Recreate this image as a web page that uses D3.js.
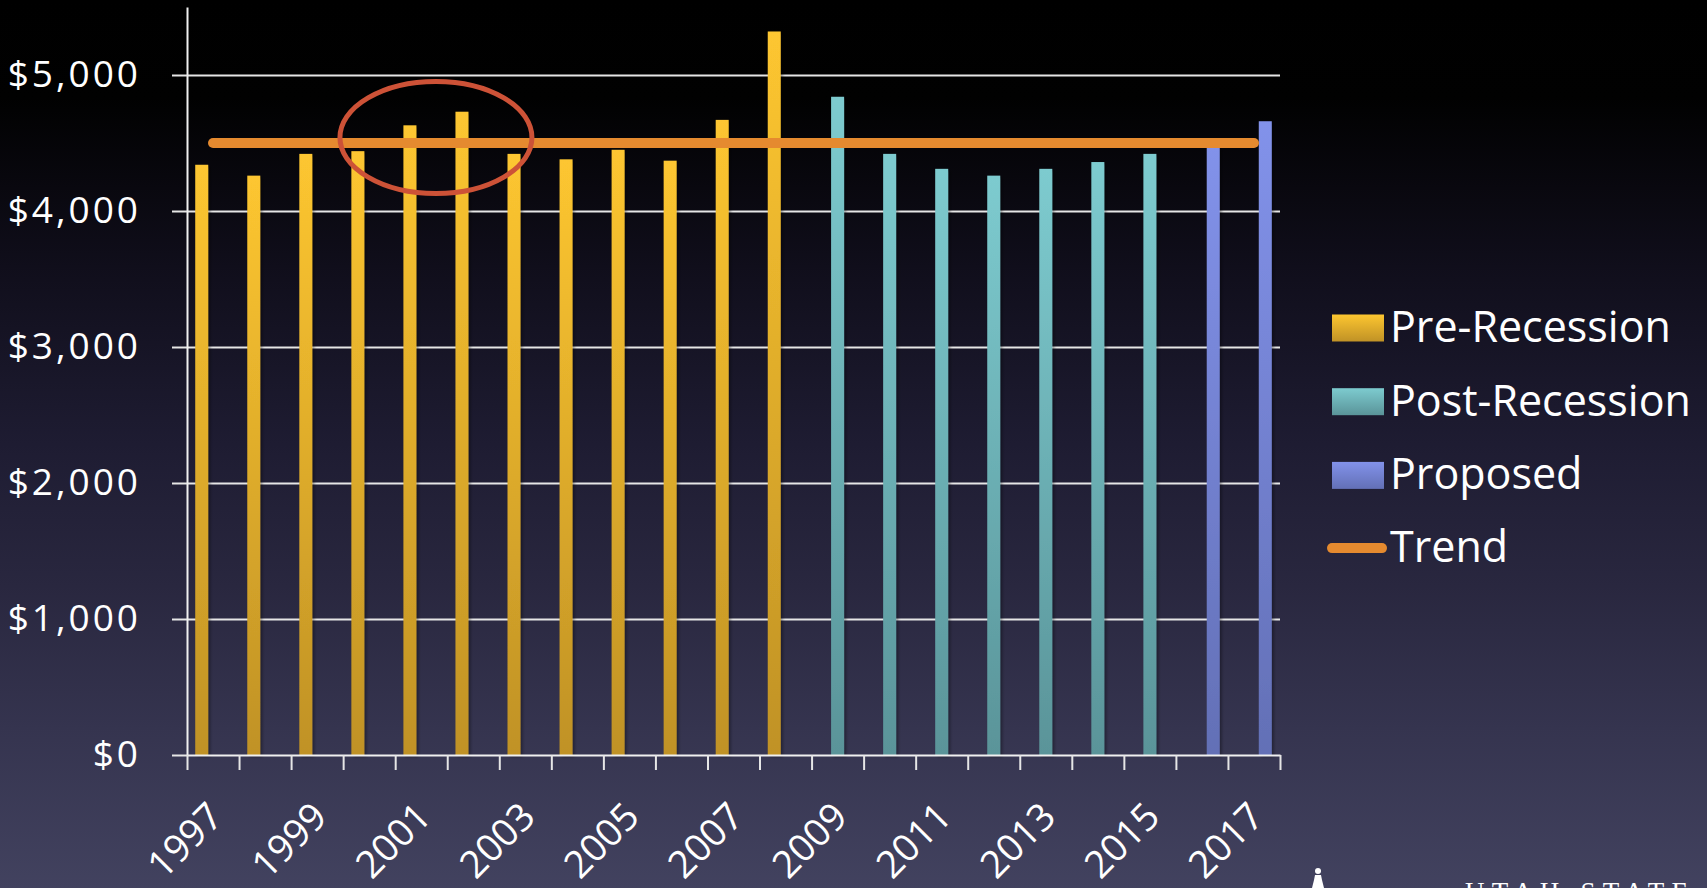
<!DOCTYPE html>
<html>
<head>
<meta charset="utf-8">
<script src="https://cdn.jsdelivr.net/npm/d3@7"></script>
<style>
  html, body { margin: 0; padding: 0; overflow: hidden; background: #000; }
  svg { display: block; }
  text { font-family: "Open Sans", "Noto Sans", sans-serif; fill: #fff; }
</style>
</head>
<body>
<svg id="chart" width="1707" height="888"></svg>
<script>
// Per-student spending by fiscal year
const years = ["1997","1998","1999","2000","2001","2002","2003","2004","2005","2006","2007",
               "2008","2009","2010","2011","2012","2013","2014","2015","2016","2017"];
const preRecession  = [4340, 4260, 4420, 4440, 4630, 4730, 4420, 4380, 4450, 4370, 4670, 5320,
                       null, null, null, null, null, null, null, null, null];
const postRecession = [null, null, null, null, null, null, null, null, null, null, null, null,
                       4840, 4420, 4310, 4260, 4310, 4360, 4420, null, null];
const proposed      = [null, null, null, null, null, null, null, null, null, null, null, null,
                       null, null, null, null, null, null, null, 4480, 4660];
const trend         = [4500, 4500, 4500, 4500, 4500, 4500, 4500, 4500, 4500, 4500, 4500,
                       4500, 4500, 4500, 4500, 4500, 4500, 4500, 4500, 4500, 4500];
const yTicks = [0, 1000, 2000, 3000, 4000, 5000];
const labelYears = ["1997","1999","2001","2003","2005","2007","2009","2011","2013","2015","2017"];
const seriesNames = ["Pre-Recession", "Post-Recession", "Proposed"];
const highlightYears = ["2001", "2002"];
const highlightValue = 4540;

const series = [
  { name: seriesNames[0], values: preRecession,  top: "#fdc630", bottom: "#c09226" },
  { name: seriesNames[1], values: postRecession, top: "#7dcbcf", bottom: "#5a9499" },
  { name: seriesNames[2], values: proposed,      top: "#8292ea", bottom: "#6370b6" }
];

const svg = d3.select("#chart");
const W = 1707, H = 888;
const plot = { left: 187, right: 1280, top: 7, bottom: 755 };

const defs = svg.append("defs");

// page background
const bg = defs.append("linearGradient").attr("id", "bg")
  .attr("x1", 0).attr("y1", 0).attr("x2", 0).attr("y2", 1);
[[0, "#000000"], [0.11, "#010101"], [0.3, "#100e1b"], [0.5, "#1e1c32"],
 [0.66, "#29273f"], [0.82, "#35344f"], [1, "#42425f"]]
  .forEach(([o, c]) => bg.append("stop").attr("offset", o).attr("stop-color", c));
svg.append("rect").attr("width", W).attr("height", H).attr("fill", "url(#bg)");

// bar fills
series.forEach((s, i) => {
  const g = defs.append("linearGradient").attr("id", "fill" + i)
    .attr("x1", 0).attr("y1", 0).attr("x2", 0).attr("y2", 1);
  g.append("stop").attr("offset", 0).attr("stop-color", s.top);
  g.append("stop").attr("offset", 1).attr("stop-color", s.bottom);
});

const shadow = defs.append("filter").attr("id", "shadow")
  .attr("x", "-50%").attr("y", "-5%").attr("width", "200%").attr("height", "110%");
shadow.append("feDropShadow").attr("dx", 2).attr("dy", 2).attr("stdDeviation", 1.5)
  .attr("flood-color", "#000").attr("flood-opacity", 0.35);

// scales
const x = d3.scaleBand().domain(years).range([plot.left, plot.right]).padding(0);
const slot = d3.scalePoint().domain(seriesNames).range([-11.3, 11.3]);
const y = d3.scaleLinear().domain([0, 5500]).range([plot.bottom, plot.top]);
const edge = d3.scaleLinear().domain([0, years.length]).range([plot.left, plot.right]);
const barW = 13;

// gridlines
svg.append("g")
  .attr("transform", `translate(${plot.left},0)`)
  .call(d3.axisLeft(y).tickValues(yTicks.slice(1)).tickSize(-(plot.right - plot.left)).tickFormat(""))
  .call(g => g.select(".domain").remove())
  .call(g => g.selectAll("line").attr("stroke", "#e6e6e6").attr("stroke-width", 2));

// y axis
svg.append("g")
  .attr("transform", `translate(${plot.left},0)`)
  .call(d3.axisLeft(y).tickValues(yTicks).tickSize(15).tickSizeOuter(0).tickPadding(31)
    .tickFormat(d => "$" + d3.format(",")(d)))
  .call(g => g.select(".domain").attr("stroke", "#f0f0f0").attr("stroke-width", 2))
  .call(g => g.selectAll("line").attr("stroke", "#e6e6e6").attr("stroke-width", 2))
  .call(g => g.selectAll("text")
    .style("font-size", "37px").style("letter-spacing", "3px").attr("fill", "#fff"));

// bars
series.forEach((s, i) => {
  svg.append("g").attr("filter", "url(#shadow)")
    .selectAll("rect")
    .data(years.map((yr, k) => ({ year: yr, v: s.values[k] })).filter(d => d.v != null))
    .join("rect")
    .attr("x", d => x(d.year) + x.bandwidth() / 2 + slot(s.name) - barW / 2)
    .attr("width", barW)
    .attr("y", d => y(d.v))
    .attr("height", d => y(0) - y(d.v))
    .attr("fill", `url(#fill${i})`);
});

// x axis with tick marks on category boundaries
svg.append("g")
  .attr("transform", `translate(0,${plot.bottom})`)
  .call(d3.axisBottom(edge).tickValues(d3.range(years.length + 1)).tickSize(15).tickSizeOuter(0).tickFormat(""))
  .call(g => g.select(".domain").attr("stroke", "#f0f0f0").attr("stroke-width", 2))
  .call(g => g.selectAll("line").attr("stroke", "#e6e6e6").attr("stroke-width", 2));

svg.append("g").selectAll("text")
  .data(labelYears)
  .join("text")
  .attr("transform", d => `translate(${x(d) + x.bandwidth() / 2 + 12},${plot.bottom + 64}) rotate(-45)`)
  .attr("text-anchor", "end")
  .style("font-size", "38px")
  .text(d => d);

// trend line
const line = d3.line().x(d => x(d.year) + x.bandwidth() / 2).y(d => y(d.v));
svg.append("path")
  .datum(years.map((yr, k) => ({ year: yr, v: trend[k] })))
  .attr("d", line)
  .attr("fill", "none")
  .attr("stroke", "#e58a2f")
  .attr("stroke-width", 10)
  .attr("stroke-linecap", "round");

// highlight ring around 2001-2002
const hx = d3.mean(highlightYears, yr => x(yr) + x.bandwidth() / 2 + slot(seriesNames[0]));
svg.append("ellipse")
  .attr("cx", hx).attr("cy", y(highlightValue))
  .attr("rx", 96).attr("ry", 56)
  .attr("fill", "none")
  .attr("stroke", "#cd5237")
  .attr("stroke-width", 5);

// legend
const legend = svg.append("g").attr("transform", "translate(1332,328)");
const rowH = 73.7;
series.forEach((s, i) => {
  const row = legend.append("g").attr("transform", `translate(0,${i * rowH})`);
  row.append("rect").attr("x", 0).attr("y", -13.5).attr("width", 52).attr("height", 27)
    .attr("fill", `url(#fill${i})`);
  row.append("text").attr("x", 58).attr("y", 14).style("font-size", "43px").text(s.name);
});
const tRow = legend.append("g").attr("transform", `translate(0,${3 * rowH - 1})`);
tRow.append("line").attr("x1", 0).attr("x2", 50).attr("y1", 0).attr("y2", 0)
  .attr("stroke", "#e58a2f").attr("stroke-width", 10).attr("stroke-linecap", "round");
tRow.append("text").attr("x", 58).attr("y", 14).style("font-size", "43px").text("Trend");

// footer mark, partly below the bottom edge
const mark = svg.append("g").attr("fill", "#fff");
mark.append("circle").attr("cx", 1318).attr("cy", 871).attr("r", 3);
mark.append("path").attr("d", "M1315,875 L1321,875 L1322,880 L1324,888 L1312,888 L1314,880 Z");
svg.append("text")
  .attr("x", 1465).attr("y", 901)
  .attr("textLength", 223).attr("lengthAdjust", "spacing")
  .style("font-family", "'Liberation Serif', 'DejaVu Serif', serif")
  .style("font-size", "27px")
  .text("UTAH STATE");
</script>
</body>
</html>
